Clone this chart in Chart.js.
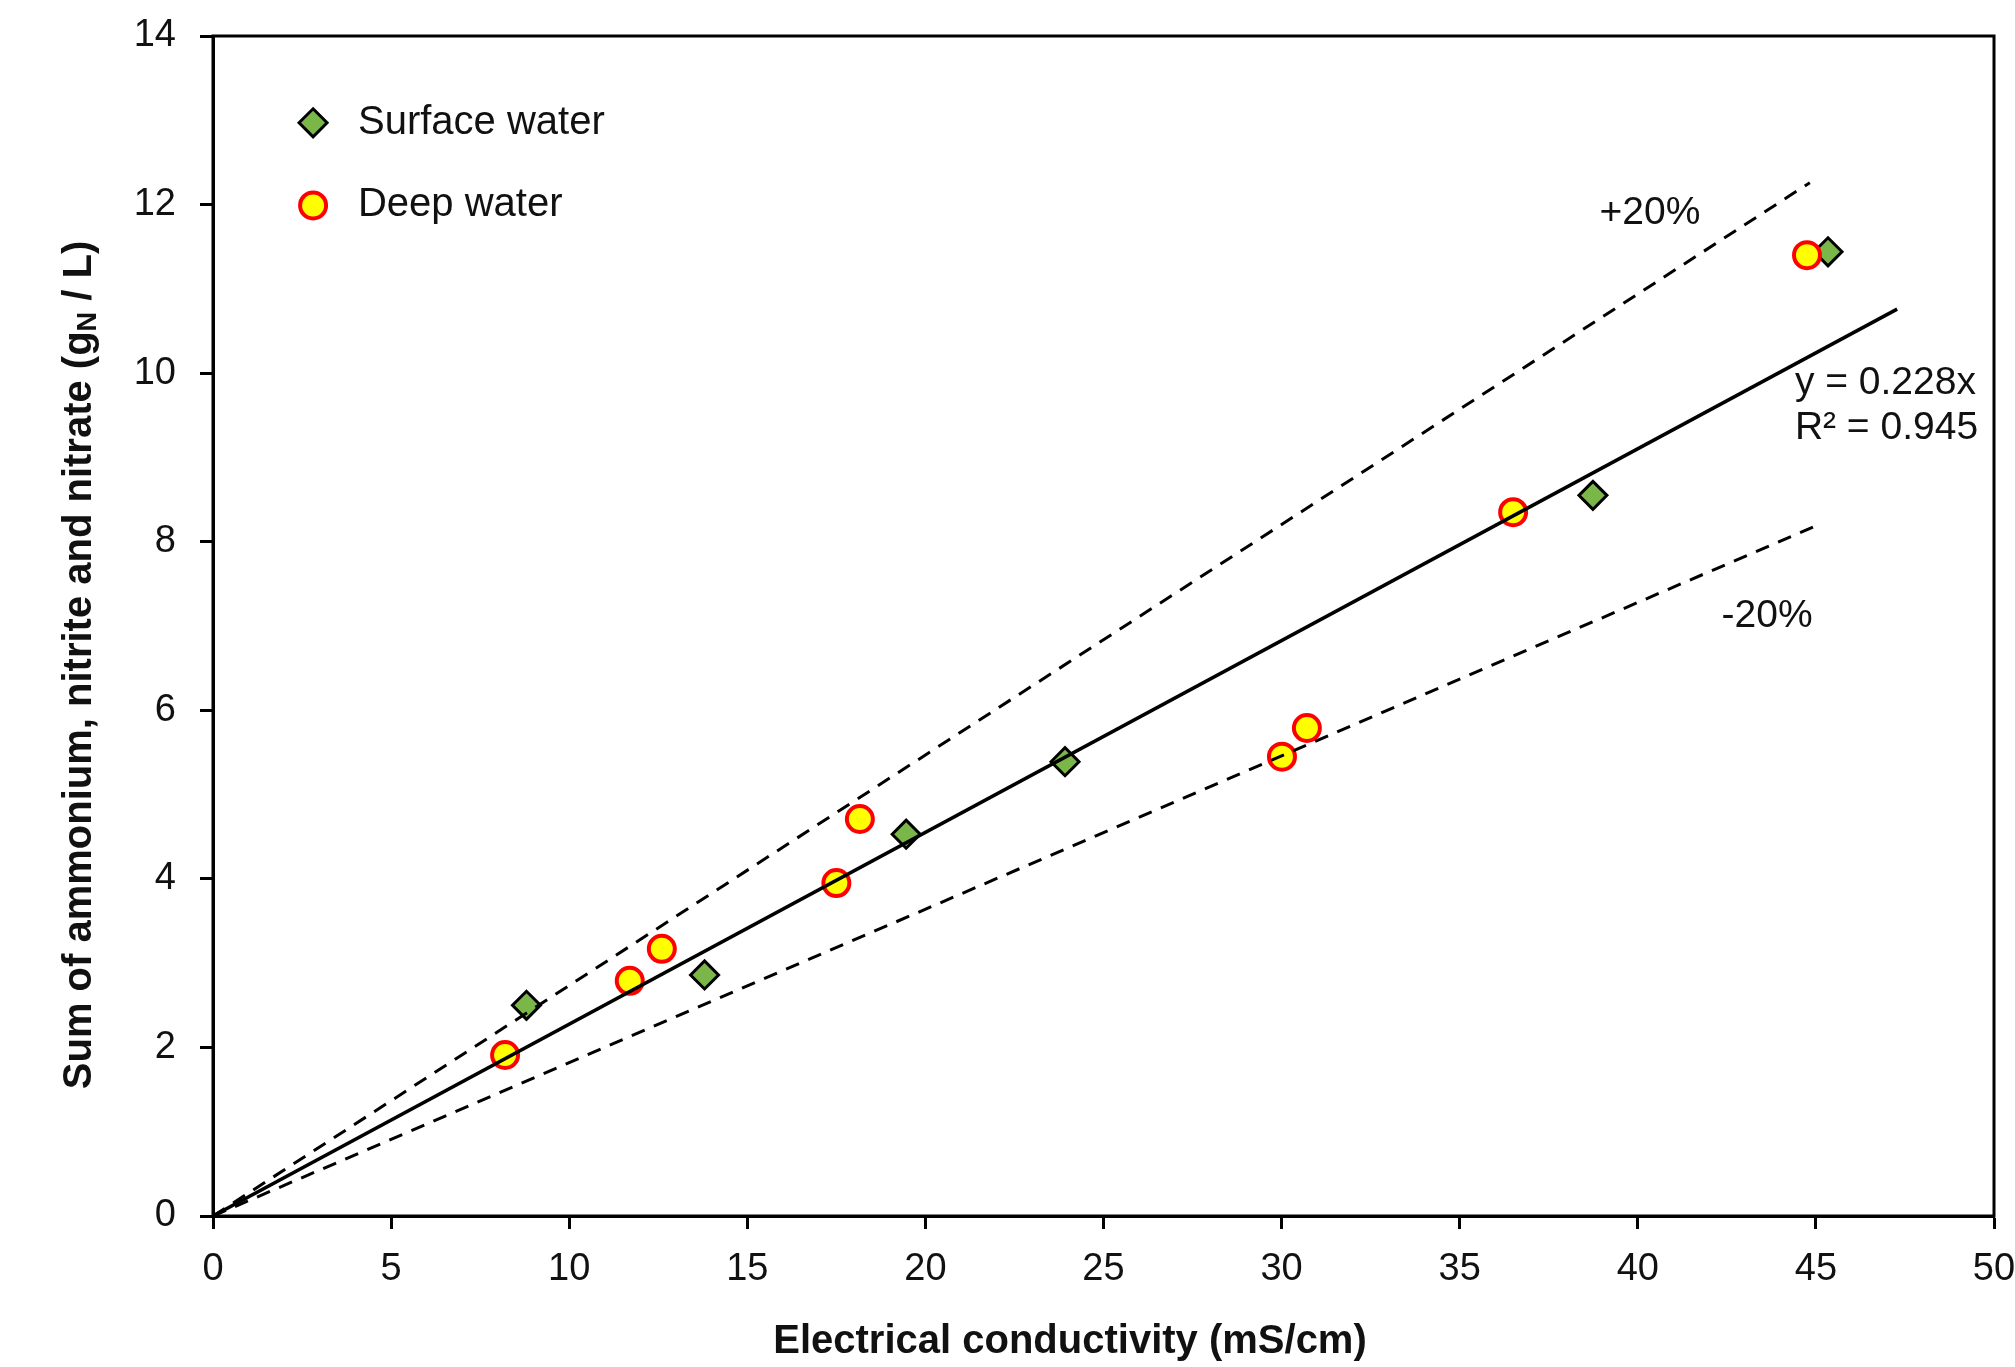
<!DOCTYPE html>
<html>
<head>
<meta charset="utf-8">
<script src="https://cdn.jsdelivr.net/npm/chart.js@4"></script>
<style>
  html, body { margin: 0; padding: 0; background: #fff; }
  #wrap { width: 2015px; height: 1367px; }
</style>
</head>
<body>
<div id="wrap"><canvas id="chart" width="2015" height="1367"></canvas></div>
<script>
// values
const surfaceX = [8.8, 13.8, 19.46, 23.92, 38.74, 45.34];
const surfaceY = [2.5, 2.86, 4.53, 5.39, 8.55, 11.44];
const deepX = [8.2, 11.7, 12.6, 17.5, 18.16, 30.01, 30.71, 36.5, 44.75];
const deepY = [1.91, 2.79, 3.17, 3.95, 4.71, 5.45, 5.79, 8.35, 11.4];

// regression line and +/-20% lines, end points
const fitX = [0, 47.28];
const fitY = [0, 10.76];
const upperX = [0, 44.83];
const upperY = [0, 12.26];
const lowerX = [0, 45.06];
const lowerY = [0, 8.2];

const xTicks = [0, 5, 10, 15, 20, 25, 30, 35, 40, 45, 50];
const yTicks = [0, 2, 4, 6, 8, 10, 12, 14];

const toPoints = (xs, ys) => xs.map((x, i) => ({x: x, y: ys[i]}));

const FONT = '"Liberation Sans", Arial, sans-serif';
const GREEN = '#7ab648';

// fixed box: plot area from x 213 to 1994, y 36 to 1216
function fixBox(s, size) {
    if (s.isHorizontal()) s.height = size; else s.width = size;
    s.paddingTop = 0;
    s.paddingBottom = 0;
    s.paddingLeft = 0;
    s.paddingRight = 0;
}

const extras = {
    id: 'extras',
    afterDraw(chart) {
        const ctx = chart.ctx;
        const a = chart.chartArea;
        const xs = chart.scales.x, ys = chart.scales.y;
        const px = v => xs.getPixelForValue(v);
        const py = v => ys.getPixelForValue(v);
        ctx.save();

        // frame
        ctx.strokeStyle = '#000';
        ctx.lineWidth = 3;
        ctx.strokeRect(a.left, a.top, a.right - a.left, a.bottom - a.top);

        // legend
        ctx.fillStyle = GREEN;
        ctx.beginPath();
        const dx = px(2.81), dy = py(12.97);
        ctx.moveTo(dx, dy - 14);
        ctx.lineTo(dx + 14, dy);
        ctx.lineTo(dx, dy + 14);
        ctx.lineTo(dx - 14, dy);
        ctx.closePath();
        ctx.fill();
        ctx.lineWidth = 3;
        ctx.strokeStyle = '#000';
        ctx.stroke();

        ctx.beginPath();
        ctx.arc(px(2.81), py(11.99), 13, 0, Math.PI * 2);
        ctx.fillStyle = '#ffff00';
        ctx.fill();
        ctx.lineWidth = 4;
        ctx.strokeStyle = '#ff0000';
        ctx.stroke();

        ctx.fillStyle = '#111';
        ctx.font = '40px ' + FONT;
        ctx.textBaseline = 'middle';
        ctx.textAlign = 'left';
        ctx.fillText('Surface water', px(4.07), py(12.97));
        ctx.fillText('Deep water', px(4.07), py(11.99));

        // labels on the plot
        ctx.font = '39px ' + FONT;
        ctx.textAlign = 'center';
        ctx.fillText('+20%', px(40.34), py(11.9));
        ctx.fillText('-20%', px(43.63), py(7.11));
        ctx.textAlign = 'left';
        ctx.fillText('y = 0.228x', px(44.41), py(9.88));
        ctx.fillText('R\u00b2 = 0.945', px(44.41), py(9.35));

        // x axis title
        ctx.font = 'bold 40px ' + FONT;
        ctx.textAlign = 'center';
        ctx.fillText('Electrical conductivity (mS/cm)', 1070, 1342);

        // y axis title with subscript
        ctx.translate(80, 665);
        ctx.rotate(-Math.PI / 2);
        const parts = [
            {t: 'Sum of ammonium, nitrite and nitrate (g', f: 'bold 40px ' + FONT, dy: 0},
            {t: 'N', f: 'bold 27px ' + FONT, dy: 9},
            {t: ' / L)', f: 'bold 40px ' + FONT, dy: 0}
        ];
        let total = 0;
        parts.forEach(p => { ctx.font = p.f; p.w = ctx.measureText(p.t).width; total += p.w; });
        let cx = -total / 2;
        ctx.textAlign = 'left';
        parts.forEach(p => {
            ctx.font = p.f;
            ctx.fillText(p.t, cx, p.dy);
            cx += p.w;
        });
        ctx.restore();
    }
};

new Chart(document.getElementById('chart'), {
    type: 'scatter',
    data: {
        datasets: [
            {
                label: 'fit',
                data: toPoints(fitX, fitY),
                showLine: true,
                borderColor: '#000',
                borderWidth: 3.5,
                pointRadius: 0
            },
            {
                label: '+20%',
                data: toPoints(upperX, upperY),
                showLine: true,
                borderColor: '#000',
                borderWidth: 3,
                borderDash: [14, 10],
                pointRadius: 0
            },
            {
                label: '-20%',
                data: toPoints(lowerX, lowerY),
                showLine: true,
                borderColor: '#000',
                borderWidth: 3,
                borderDash: [14, 10],
                pointRadius: 0
            },
            {
                label: 'Deep water',
                data: toPoints(deepX, deepY),
                pointStyle: 'circle',
                pointRadius: 13,
                backgroundColor: '#ffff00',
                borderColor: '#ff0000',
                borderWidth: 4
            },
            {
                label: 'Surface water',
                data: toPoints(surfaceX, surfaceY),
                pointStyle: 'rectRot',
                pointRadius: 14,
                backgroundColor: GREEN,
                borderColor: '#000',
                borderWidth: 3
            }
        ]
    },
    options: {
        responsive: false,
        animation: false,
        layout: {
            padding: {top: 36, right: 21, left: 0, bottom: 0}
        },
        plugins: {
            legend: {display: false},
            tooltip: {enabled: false}
        },
        scales: {
            x: {
                type: 'linear',
                min: 0,
                max: 50,
                afterBuildTicks: s => { s.ticks = xTicks.map(v => ({value: v})); },
                afterFit: s => fixBox(s, 151),
                border: {display: true, color: '#000', width: 3},
                grid: {drawOnChartArea: false, drawTicks: true, tickLength: 13, tickWidth: 3, tickColor: '#000'},
                ticks: {color: '#111', padding: 18, font: {family: FONT, size: 38}}
            },
            y: {
                type: 'linear',
                min: 0,
                max: 14,
                afterBuildTicks: s => { s.ticks = yTicks.map(v => ({value: v})); },
                afterFit: s => fixBox(s, 213),
                border: {display: true, color: '#000', width: 3},
                grid: {drawOnChartArea: false, drawTicks: true, tickLength: 13, tickWidth: 3, tickColor: '#000'},
                ticks: {color: '#111', padding: 24, font: {family: FONT, size: 38}}
            }
        }
    },
    plugins: [extras]
});
</script>
</body>
</html>
